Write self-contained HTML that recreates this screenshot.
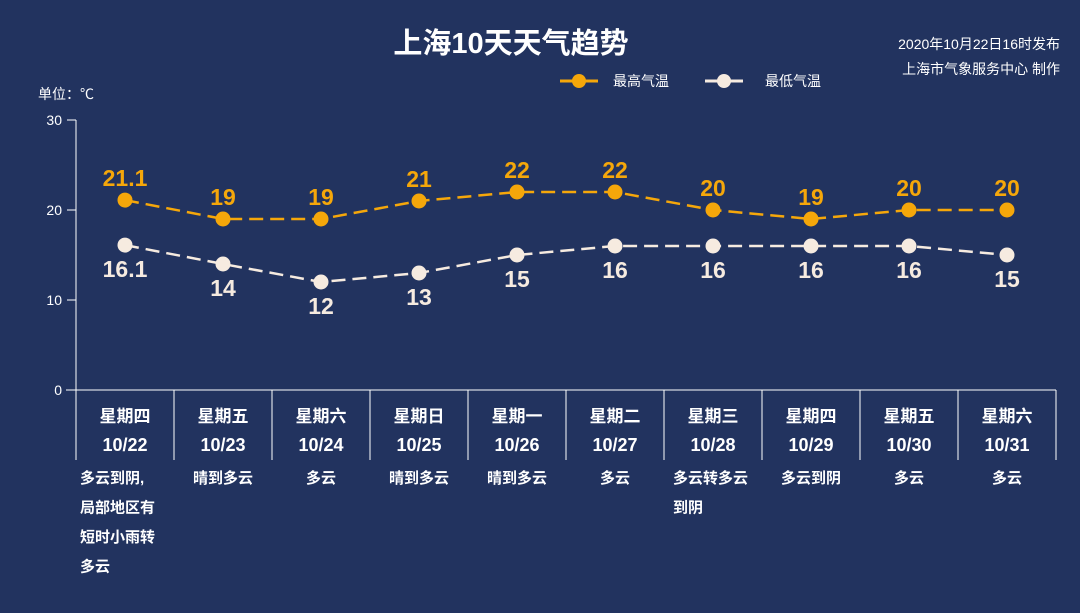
<!DOCTYPE html>
<html><head><meta charset="utf-8"><style>
html,body{margin:0;padding:0;background:#22335f;}
svg{display:block;font-family:"Liberation Sans","Noto Sans CJK SC",sans-serif;}
</style></head><body>
<svg id="c" width="1080" height="613" viewBox="0 0 1080 613">
<rect width="1080" height="613" fill="#22335f"/>
<text x="511" y="53" text-anchor="middle" font-size="29" font-weight="bold" fill="#fff">上海10天天气趋势</text>
<text x="1060" y="49" text-anchor="end" font-size="14" fill="#fff">2020年10月22日16时发布</text>
<text x="1060" y="74" text-anchor="end" font-size="14" fill="#fff">上海市气象服务中心 制作</text>
<g>
<line x1="560" y1="81" x2="598" y2="81" stroke="#f5a70a" stroke-width="3"/>
<circle cx="579" cy="81" r="7" fill="#f5a70a"/>
<text x="613" y="86" font-size="14" fill="#fff">最高气温</text></g>
<g>
<line x1="705" y1="81" x2="743" y2="81" stroke="#f6ebe0" stroke-width="3"/>
<circle cx="724" cy="81" r="7" fill="#f6ebe0"/>
<text x="765" y="86" font-size="14" fill="#fff">最低气温</text></g>
<text x="38" y="99" font-size="14" fill="#fff">单位：℃</text>
<g id="axes"></g>
<g id="marks"></g>
</svg>
<script>
const dates=["10/22","10/23","10/24","10/25","10/26","10/27","10/28","10/29","10/30","10/31"];
const weekdays=["星期四","星期五","星期六","星期日","星期一","星期二","星期三","星期四","星期五","星期六"];
const weather=[["多云到阴,","局部地区有","短时小雨转","多云"],["晴到多云"],["多云"],["晴到多云"],["晴到多云"],["多云"],["多云转多云","到阴"],["多云到阴"],["多云"],["多云"]];
const highs=[21.1,19,19,21,22,22,20,19,20,20];
const lows=[16.1,14,12,13,15,16,16,16,16,15];
const yTicks=[0,10,20,30];
const NS="http://www.w3.org/2000/svg";
const X0=76,X1=1056,Y0=390,Y1=120,YMAX=30;
const bw=(X1-X0)/dates.length;
const xs=i=>X0+bw*(i+0.5);
const ys=v=>Y0-(v/YMAX)*(Y0-Y1);
function mk(tag,at,parent,txt){const e=document.createElementNS(NS,tag);for(const k in at)e.setAttribute(k,at[k]);if(txt!=null)e.textContent=txt;parent.appendChild(e);return e;}
const ax=document.getElementById('axes'),mg=document.getElementById('marks');
let e=mk('line',{x1:X0,y1:Y1,x2:X0,y2:Y0,stroke:'#fff','stroke-width':1},ax);


e=mk('line',{x1:66,y1:Y0,x2:X1,y2:Y0,stroke:'#fff','stroke-width':1},ax);


yTicks.forEach(t=>{
 mk('line',{x1:X0-9,y1:ys(t),x2:X0,y2:ys(t),stroke:'#fff'},ax);
 e=mk('text',{x:X0-14,y:ys(t)+5,'text-anchor':'end','font-size':14,fill:'#fff'},ax,t);
 
 
});
for(let i=0;i<=dates.length;i++){mk('line',{x1:X0+bw*i,y1:Y0,x2:X0+bw*i,y2:460,stroke:'#fff'},ax);}
dates.forEach((d,i)=>{
 e=mk('text',{x:xs(i),y:422,'text-anchor':'middle','font-size':17,'font-weight':'bold',fill:'#fff'},ax,weekdays[i]);
 
 
 e=mk('text',{x:xs(i),y:451,'text-anchor':'middle','font-size':18,'font-weight':'bold',fill:'#fff'},ax,d);
 
 
 weather[i].forEach((w,j)=>{
  const multi=weather[i].length>2;
  e=mk('text',{x:multi?80:(weather[i].length>1?xs(i)-47+bw*0:xs(i)),y:483+j*29.5,'text-anchor':(multi||weather[i].length>1)?'start':'middle','font-size':15,'font-weight':'bold',fill:'#fff'},ax,w);
  if(weather[i].length>1&&!multi)e.setAttribute('x',X0+bw*i+(bw-76)/2-2);
  
  
 });
});
function series(vals,color,name,above){
 e=mk('polyline',{points:vals.map((v,i)=>xs(i)+','+ys(v)).join(' '),fill:'none',stroke:color,'stroke-width':2.5,'stroke-dasharray':'14,7'},mg);
 
 
 vals.forEach((v,i)=>{
  e=mk('circle',{cx:xs(i),cy:ys(v),r:7.5,fill:color},mg);
  
  
  e=mk('text',{x:xs(i),y:above?ys(v)-14:ys(v)+32,'text-anchor':'middle','font-size':23,'font-weight':'bold',fill:color},mg,v);
  
  
 });
}
series(highs,'#f5a70a','high-temp',true);
series(lows,'#f6ebe0','low-temp',false);
</script>
</body></html>
